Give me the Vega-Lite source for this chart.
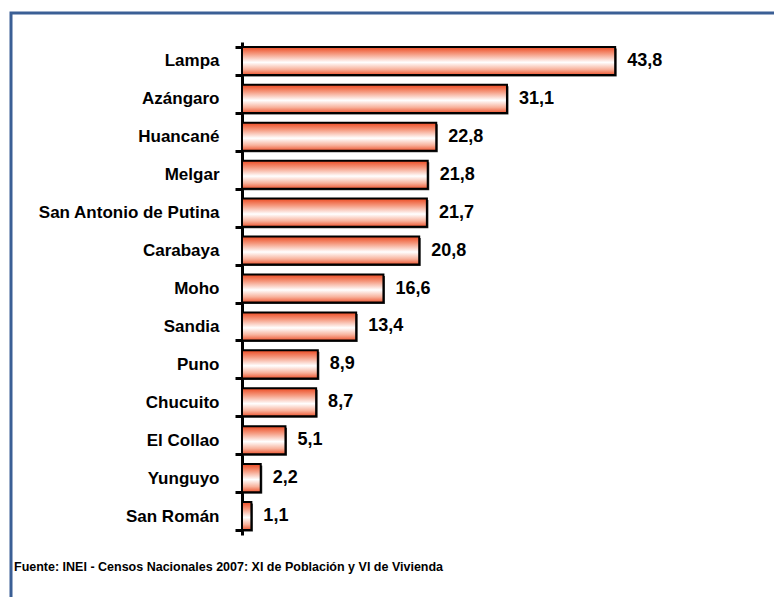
{
  "$schema": "https://vega.github.io/schema/vega-lite/v6.json",
  "autosize": {"type": "none"},
  "padding": {"left": 11, "top": 13, "right": 0, "bottom": 0},
  "width": 790,
  "height": 600,
  "background": "white",
  "title": {
    "text": "Fuente: INEI - Censos Nacionales 2007: XI de Población y VI de Vivienda",
    "orient": "bottom",
    "anchor": "start",
    "frame": "group",
    "offset": -52,
    "dx": 3,
    "font": "Liberation Sans",
    "fontSize": 12.5,
    "fontWeight": "bold",
    "color": "black"
  },
  "data": {
    "values": [
      {"provincia": "Lampa", "valor": 43.8},
      {"provincia": "Azángaro", "valor": 31.1},
      {"provincia": "Huancané", "valor": 22.8},
      {"provincia": "Melgar", "valor": 21.8},
      {"provincia": "San Antonio de Putina", "valor": 21.7},
      {"provincia": "Carabaya", "valor": 20.8},
      {"provincia": "Moho", "valor": 16.6},
      {"provincia": "Sandia", "valor": 13.4},
      {"provincia": "Puno", "valor": 8.9},
      {"provincia": "Chucuito", "valor": 8.7},
      {"provincia": "El Collao", "valor": 5.1},
      {"provincia": "Yunguyo", "valor": 2.2},
      {"provincia": "San Román", "valor": 1.1}
    ]
  },
  "encoding": {
    "y": {
      "field": "provincia",
      "type": "nominal",
      "sort": "-x",
      "scale": {"range": [29, 522], "paddingInner": 0.26, "paddingOuter": 0.13},
      "axis": {
        "title": null,
        "offset": -231,
        "domainColor": "black",
        "domainWidth": 3,
        "tickColor": "black",
        "tickWidth": 3,
        "tickSize": 7,
        "tickBand": "extent",
        "labelFont": "Liberation Sans",
        "labelFontSize": 17,
        "labelFontWeight": "bold",
        "labelColor": "black",
        "labelPadding": 16,
        "labelLimit": 400,
        "grid": false
      }
    },
    "x": {
      "field": "valor",
      "type": "quantitative",
      "scale": {"domain": [0, 60], "range": [231, 742.2], "nice": false},
      "axis": null
    }
  },
  "layer": [
    {
      "mark": {"type": "bar", "color": "#333333", "xOffset": 1.5, "yOffset": 1.5}
    },
    {
      "mark": {
        "type": "bar",
        "stroke": "black",
        "strokeWidth": 2,
        "color": {
          "gradient": "linear",
          "x1": 0, "y1": 0, "x2": 0, "y2": 1,
          "stops": [
            {"offset": 0, "color": "#ec4a22"},
            {"offset": 0.25, "color": "#f59a80"},
            {"offset": 0.55, "color": "#ffffff"},
            {"offset": 0.8, "color": "#f8b29c"},
            {"offset": 1, "color": "#ed5530"}
          ]
        }
      }
    },
    {
      "mark": {
        "type": "text",
        "align": "left",
        "baseline": "middle",
        "dx": 12,
        "font": "Liberation Sans",
        "fontSize": 18,
        "fontWeight": "bold",
        "color": "black"
      },
      "encoding": {
        "text": {"field": "valor", "type": "quantitative", "format": ".1f"}
      }
    }
  ],
  "config": {
    "locale": {
      "number": {"decimal": ",", "thousands": ".", "grouping": [3], "currency": ["", ""]}
    },
    "view": {"stroke": "#3b5f95", "strokeWidth": 3}
  }
}
